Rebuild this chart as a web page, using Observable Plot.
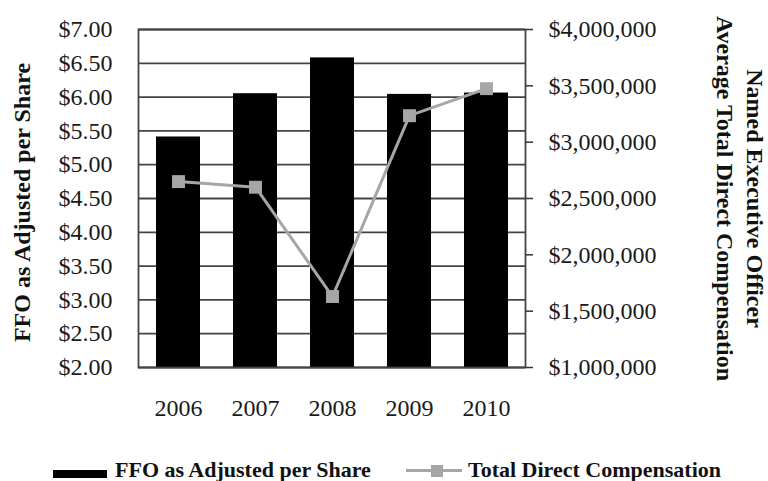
<!DOCTYPE html>
<html>
<head>
<meta charset="utf-8">
<script src="https://cdn.jsdelivr.net/npm/d3@7"></script>
<script src="https://cdn.jsdelivr.net/npm/@observablehq/plot@0.6"></script>
<style>
  html, body { margin: 0; padding: 0; background: #fff; }
  #wrap { width: 768px; height: 481px; overflow: hidden; position: relative; }
  #legend { position: relative; width: 768px; height: 33px; font-family: "Liberation Serif", "Times New Roman", serif; font-weight: bold; font-size: 22px; line-height: 22px; color: #111; }
  #legend > * { position: absolute; }
</style>
</head>
<body>
<div id="wrap">
  <div id="chart"></div>
  <div id="legend">
    <div style="left:53px; top:22px; width:54px; height:8px; background:#000;"></div>
    <span style="left:115px; top:10.6px; white-space:nowrap;">FFO as Adjusted per Share</span>
    <div style="left:406px; top:21px; width:56px; height:3px; background:#a6a6a6;"></div>
    <div style="left:431px; top:16.5px; width:12px; height:12px; background:#a6a6a6;"></div>
    <span style="left:468px; top:10.6px; white-space:nowrap;">Total Direct Compensation</span>
  </div>
</div>
<script>
const years = ["2006", "2007", "2008", "2009", "2010"];
const ffo = [5.41, 6.05, 6.58, 6.04, 6.06];
const compensation = [2650000, 2600000, 1630000, 3235000, 3475000];
const leftTicks = [2, 2.5, 3, 3.5, 4, 4.5, 5, 5.5, 6, 6.5, 7];
const rightTicks = [1000000, 1500000, 2000000, 2500000, 3000000, 3500000, 4000000];

// right axis (compensation) mapped onto left axis domain
const toY = v => 2 + (v - 1000000) * 5 / 3000000;
const fromY = y => (y - 2) * 3000000 / 5 + 1000000;

const data = years.map((year, i) => ({ year, ffo: ffo[i], comp: compensation[i] }));

const fmtMoney = d3.format(",");

const chart = Plot.plot({
  width: 768,
  height: 448,
  marginLeft: 138,
  marginRight: 243,
  marginTop: 29,
  marginBottom: 81,
  style: { fontFamily: "'Liberation Serif', 'Times New Roman', serif", fontSize: "24px", color: "#1a1a1a", background: "#fff", overflow: "visible" },
  x: { type: "band", domain: years, paddingInner: 0.43, paddingOuter: 0.215, axis: null },
  y: { domain: [2, 7], axis: null },
  marks: [
    Plot.ruleY(leftTicks, { stroke: "#444", strokeWidth: 1.8 }),
    Plot.barY(data, { x: "year", y1: () => 2, y2: "ffo", fill: "#000" }),
    Plot.line(data, { x: "year", y: d => toY(d.comp), stroke: "#a6a6a6", strokeWidth: 3 }),
    Plot.dot(data, { x: "year", y: d => toY(d.comp), symbol: "square", r: 7.3, fill: "#a6a6a6", stroke: "none" }),
    Plot.frame({ stroke: "#444", strokeWidth: 1.8 }),
    Plot.axisX({ tickSize: 0, tickPadding: 31, label: null }),
    Plot.axisY(leftTicks, { anchor: "left", tickSize: 0, tickPadding: 26, label: null, tickFormat: d => "$" + d.toFixed(2) }),
    Plot.axisY(rightTicks.map(toY), { anchor: "right", tickSize: 7, tickPadding: 16, label: null, stroke: "#333", strokeWidth: 1.5,
      tickFormat: d => "$" + fmtMoney(Math.round(fromY(d) / 1000) * 1000) }),
    Plot.text(["FFO as Adjusted per Share"], { frameAnchor: "left", dx: -116, dy: 4, rotate: -90, fontWeight: "bold", fontSize: 24, fill: "#111", textAnchor: "middle" }),
    Plot.text(["Named Executive Officer\nAverage Total Direct Compensation"], { frameAnchor: "right", dx: 216, dy: 0, rotate: 90, fontWeight: "bold", fontSize: 24, lineHeight: 1.25, fill: "#111", textAnchor: "middle" })
  ]
});
document.getElementById("chart").appendChild(chart);
</script>
</body>
</html>
